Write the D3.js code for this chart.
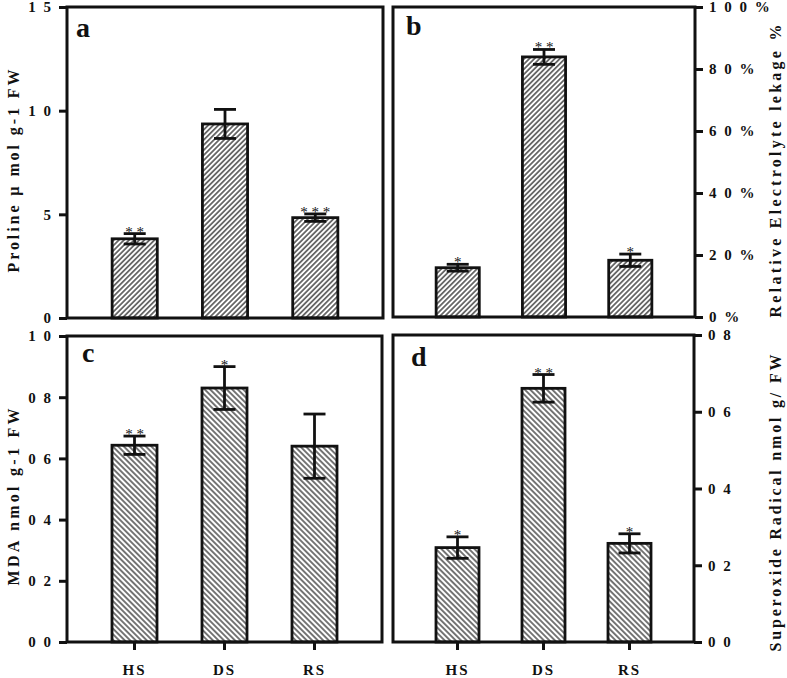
<!DOCTYPE html>
<html>
<head>
<meta charset="utf-8">
<script src="https://cdn.jsdelivr.net/npm/d3@7"></script>
<style>
  body { margin: 0; background: #fff; }
  text { font-family: "Liberation Serif", "Times New Roman", serif; font-weight: bold; fill: #111; }
</style>
</head>
<body>
<div id="chart"></div>
<script>
// groups on the x axis
var groups = ["HS", "DS", "RS"];

// a: proline
var prolineMean = [3.82, 9.36, 4.84];
var prolineErr = [0.25, 0.7, 0.18];
var prolineStars = ["* *", "", "* * *"];
var prolineTicks = [0, 5, 10, 15];
var prolineTickLabels = ["0", "5", "1 0", "1 5"];

// b: relative electrolyte leakage (%)
var leakMean = [15.9, 83.9, 18.3];
var leakErr = [1.1, 2.4, 2.0];
var leakStars = ["*", "* *", "*"];
var leakTicks = [0, 20, 40, 60, 80, 100];
var leakTickLabels = ["0 %", "2 0 %", "4 0 %", "6 0 %", "8 0 %", "1 0 0 %"];

// c: MDA
var mdaMean = [0.643, 0.83, 0.64];
var mdaErr = [0.03, 0.07, 0.105];
var mdaStars = ["* *", "*", ""];
var mdaTicks = [0, 0.2, 0.4, 0.6, 0.8, 1.0];
var mdaTickLabels = ["0  0", "0  2", "0  4", "0  6", "0  8", "1  0"];

// d: superoxide radical
var supMean = [0.246, 0.661, 0.257];
var supErr = [0.028, 0.036, 0.025];
var supStars = ["*", "* *", "*"];
var supTicks = [0, 0.2, 0.4, 0.6, 0.8];
var supTickLabels = ["0  0", "0  2", "0  4", "0  6", "0  8"];

const svg = d3.select("#chart").append("svg").attr("width", 787).attr("height", 678);

const defs = svg.append("defs");
function hatch(id, angle, size) {
  defs
    .append("pattern")
    .attr("id", id)
    .attr("patternUnits", "userSpaceOnUse")
    .attr("width", size)
    .attr("height", size)
    .attr("patternTransform", `rotate(${angle})`)
    .call((p) => {
      p.append("rect").attr("width", size).attr("height", size).attr("fill", "#fff");
      p.append("line")
        .attr("x1", size / 2).attr("x2", size / 2)
        .attr("y1", 0).attr("y2", size)
        .attr("stroke", "#111")
        .attr("stroke-width", 1.15);
    });
}
hatch("fwd", 45, 3.6);
hatch("back", -45, 3.9);

function drawPanel(o) {
  var x = d3.scaleBand().domain(groups).range([o.x0, o.x1]).paddingInner(0.5).paddingOuter(0.5);
  var y = d3.scaleLinear().domain([0, o.max]).range([o.y1, o.y0]);
  var g = svg.append("g");

  var rows = groups.map((k, i) => ({ k: k, v: o.mean[i], e: o.err[i], s: o.stars[i] }));

  g.selectAll(".bar")
    .data(rows)
    .enter()
    .append("rect")
    .attr("x", (d) => x(d.k))
    .attr("width", x.bandwidth())
    .attr("y", (d) => y(d.v))
    .attr("height", (d) => o.y1 - y(d.v))
    .attr("fill", `url(#${o.pattern})`)
    .attr("stroke", "#111")
    .attr("stroke-width", 2.8);

  // error bars
  var eb = g.selectAll(".err").data(rows).enter().append("g")
    .attr("transform", (d) => `translate(${x(d.k) + x.bandwidth() / 2},0)`);
  eb.append("line")
    .attr("y1", (d) => y(d.v + d.e)).attr("y2", (d) => y(d.v - d.e))
    .attr("stroke", "#111").attr("stroke-width", 2.8);
  [1, -1].forEach((sgn) => {
    eb.append("line")
      .attr("x1", -11).attr("x2", 11)
      .attr("y1", (d) => y(d.v + sgn * d.e)).attr("y2", (d) => y(d.v + sgn * d.e))
      .attr("stroke", "#111").attr("stroke-width", 2.8);
  });
  eb.append("text")
    .attr("text-anchor", "middle")
    .attr("y", (d) => y(d.v + d.e) + 3)
    .style("font-size", "15px")
    .style("font-weight", "normal")
    .attr("fill", "#000")
    .text((d) => d.s);

  // frame
  g.append("rect")
    .attr("x", o.x0).attr("y", o.y0)
    .attr("width", o.x1 - o.x0).attr("height", o.y1 - o.y0)
    .attr("fill", "none").attr("stroke", "#111").attr("stroke-width", 3);

  // y axis
  var axis = (o.side == "left" ? d3.axisLeft(y) : d3.axisRight(y))
    .tickValues(o.ticks)
    .tickSize(8)
    .tickPadding(6)
    .tickFormat((d, i) => o.tickLabels[i]);
  var ya = g.append("g")
    .attr("transform", `translate(${o.side == "left" ? o.x0 : o.x1},0)`)
    .call(axis);
  ya.select(".domain").remove();
  ya.selectAll("line").attr("stroke", "#111").attr("stroke-width", 3);
  ya.selectAll("text")
    .style("font-family", "Liberation Serif, serif")
    .style("font-weight", "bold")
    .style("font-size", "15px")
    .style("letter-spacing", "2px")
    .attr("fill", "#111");

  // x axis (bottom row only)
  if (o.xlabels) {
    var xa = g.append("g")
      .attr("transform", `translate(0,${o.y1})`)
      .call(d3.axisBottom(x).tickSize(8).tickPadding(14));
    xa.select(".domain").remove();
    xa.selectAll("line").attr("stroke", "#111").attr("stroke-width", 3);
    xa.selectAll("text")
      .style("font-family", "Liberation Serif, serif")
      .style("font-weight", "bold")
      .style("font-size", "15px")
      .style("letter-spacing", "2px")
      .attr("fill", "#111");
  }

  // panel letter
  g.append("text")
    .attr("x", o.x0 + o.letterDx)
    .attr("y", o.y0 + o.letterDy)
    .style("font-size", "28px")
    .text(o.letter);

  // axis title
  g.append("text")
    .attr("transform", `translate(${o.titleX},${o.titleY}) rotate(-90)`)
    .attr("text-anchor", "middle")
    .attr("textLength", o.titleLen)
    .attr("lengthAdjust", "spacing")
    .style("font-size", "16px")
    .text(o.title);
}

drawPanel({
  x0: 67, x1: 383, y0: 7, y1: 318, max: 15, side: "left",
  mean: prolineMean, err: prolineErr, stars: prolineStars,
  ticks: prolineTicks, tickLabels: prolineTickLabels, pattern: "fwd",
  letter: "a", letterDx: 9, letterDy: 30,
  title: "Proline  \u00b5 mol g-1 FW", titleX: 19, titleY: 171, titleLen: 203
});
drawPanel({
  x0: 393, x1: 695, y0: 7, y1: 317, max: 100, side: "right",
  mean: leakMean, err: leakErr, stars: leakStars,
  ticks: leakTicks, tickLabels: leakTickLabels, pattern: "fwd",
  letter: "b", letterDx: 13, letterDy: 28,
  title: "Relative Electrolyte lekage  %", titleX: 781, titleY: 171, titleLen: 293
});
drawPanel({
  x0: 67, x1: 382, y0: 336, y1: 642, max: 1.0, side: "left",
  mean: mdaMean, err: mdaErr, stars: mdaStars,
  ticks: mdaTicks, tickLabels: mdaTickLabels, pattern: "back", xlabels: true,
  letter: "c", letterDx: 15, letterDy: 26,
  title: "MDA  nmol g-1 FW", titleX: 19, titleY: 497, titleLen: 177
});
drawPanel({
  x0: 393, x1: 694, y0: 335, y1: 642, max: 0.8, side: "right",
  mean: supMean, err: supErr, stars: supStars,
  ticks: supTicks, tickLabels: supTickLabels, pattern: "back", xlabels: true,
  letter: "d", letterDx: 18, letterDy: 31,
  title: "Superoxide Radical  nmol g/ FW", titleX: 781, titleY: 503, titleLen: 297
});
</script>
</body>
</html>
